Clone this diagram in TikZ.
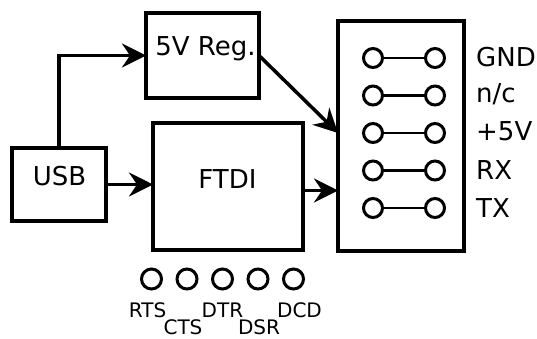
\documentclass[tikz,border=0pt]{standalone}
\usepackage{fontspec}
\setmainfont{DejaVu Sans}
\usetikzlibrary{arrows.meta,calc}
\begin{document}
\begin{tikzpicture}[x=1pt,y=-1pt,
  blk/.style={draw=black,line width=3.5pt,inner sep=0pt,outer sep=0pt,rectangle},
  lbl/.style={font=\fontsize{26}{26}\selectfont,inner sep=0pt,anchor=base},
  small/.style={font=\fontsize{20}{20}\selectfont,inner sep=0pt,anchor=base},
  pin/.style={circle,draw=black,line width=3pt,minimum size=19pt,inner sep=0pt,outer sep=0pt},
  bpin/.style={circle,draw=black,line width=3pt,minimum size=20pt,inner sep=0pt,outer sep=0pt},
  arr/.style={line width=3.5pt,-{Stealth[length=24pt,width=24pt,inset=8pt]}},
  wire/.style={line width=2.5pt}]
\useasboundingbox[fill=white] (0,0) rectangle (537,338);
% blocks
\node[blk,minimum width=113pt,minimum height=85pt] (reg) at (202.5,55.5) {};
\node[blk,minimum width=150pt,minimum height=127pt] (ftdi) at (228,186.5) {};
\node[blk,minimum width=94pt,minimum height=73pt] (usb) at (59,184.5) {};
\node[blk,minimum width=126pt,minimum height=230pt] (conn) at (401,136) {};
% block texts
\node[lbl] (treg) at (205.5,55) {5V Reg.};
\node[lbl] (tftdi) at (227.5,188.3) {FTDI};
\node[lbl] (tusb) at (59.5,185) {USB};
% connector pins
\foreach \i/\y in {1/58,2/95.5,3/133,4/170.5,5/208}{
  \node[pin] (pl\i) at (373,\y) {};
  \node[pin] (pr\i) at (435,\y) {};
  \draw[wire] (pl\i) -- (pr\i);
}
\node[lbl,anchor=base west] (lgnd) at (476,66.5) {GND};
\node[lbl,anchor=base west] (lnc) at (476,102) {n/c};
\node[lbl,anchor=base west] (l5v) at (476,140) {+5V};
\node[lbl,anchor=base west] (lrx) at (476,179.5) {RX};
\node[lbl,anchor=base west] (ltx) at (476,217.5) {TX};
% arrows
\draw[arr] (usb.north) |- (reg.west);
\draw[arr] (usb.east) -- (usb.east -| ftdi.west);
\draw[arr] ([yshift=-4pt]ftdi.east) -- ([yshift=-4pt]ftdi.east -| conn.west);
\draw[arr] (reg.east) -- (conn.west |- pl3);
% bottom pins
\node[bpin] (b1) at (151.5,279) {};
\node[bpin] (b2) at (187,279) {};
\node[bpin] (b3) at (222.5,279) {};
\node[bpin] (b4) at (258,279) {};
\node[bpin] (b5) at (293.5,279) {};
\node[small] (rts) at (147.5,317) {RTS};
\node[small] (dtr) at (222.5,317) {DTR};
\node[small] (dcd) at (299.5,317) {DCD};
\node[small] (cts) at (183,334) {CTS};
\node[small] (dsr) at (259,334) {DSR};
\end{tikzpicture}
\end{document}
